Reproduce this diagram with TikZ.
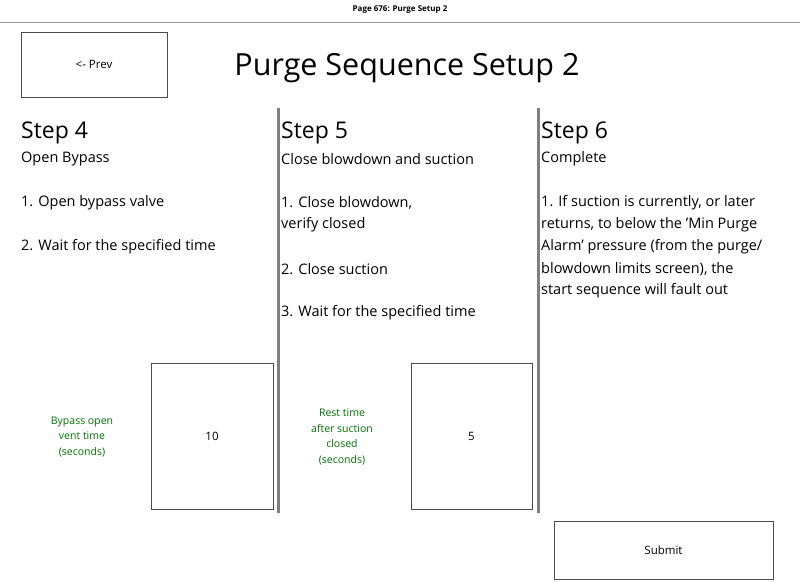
\documentclass[tikz,border=0pt]{standalone}
\usepackage{fontspec}
\setmainfont{Open Sans}
\begin{document}
\begin{tikzpicture}[x=1pt,y=-1pt,
  btn/.style={draw=black!70,line width=0.8pt,fill=white},
  body/.style={anchor=west,font=\fontsize{14.5}{17}\selectfont,inner sep=0pt},
  steph/.style={anchor=west,font=\fontsize{23}{26}\selectfont,inner sep=0pt},
  lbl/.style={align=center,text=green!45!black,font=\fontsize{10.5}{15.5}\selectfont},
  divider/.style={draw=black!50,line width=3pt}]
\useasboundingbox (0,0) rectangle (800,582);
\fill[white] (0,0) rectangle (800,582);
\node[font=\bfseries\fontsize{8}{9}\selectfont] (hdr) at (400,10) {Page 676: Purge Setup 2};
\draw[black!40] (0,22) coordinate (l0) -- (800,22) coordinate (l1);
\node[btn,minimum width=146,minimum height=65,font=\fontsize{11.5}{13}\selectfont] (prev) at (94,64.5) {<- Prev};
\node[font=\fontsize{30.5}{34}\selectfont] (title) at (407,68) {Purge Sequence Setup 2};
\draw[divider] (278,108) coordinate (d1a) -- (278,513) coordinate (d1b);
\draw[divider] (538,108) coordinate (d2a) -- (538,513) coordinate (d2b);
\node[steph] (s4) at (21,133) {Step 4};
\node[body] (s4a) at (21,159) {Open Bypass};
\node[body] (s4b) at (21,203) {1. Open bypass valve};
\node[body] (s4c) at (21,247) {2. Wait for the specified time};
\node[steph] (s5) at (281,133) {Step 5};
\node[body] (s5a) at (281,159) {Close blowdown and suction};
\node[body] (s5b) at (281,203) {1. Close blowdown,};
\node[body] (s5c) at (281,225) {verify closed};
\node[body] (s5d) at (281,269) {2. Close suction};
\node[body] (s5e) at (281,313) {3. Wait for the specified time};
\node[steph] (s6) at (541,133) {Step 6};
\node[body] (s6a) at (541,159) {Complete};
\node[body] (s6b) at (541,203) {1. If suction is currently, or later};
\node[body] (s6c) at (541,225) {returns, to below the \char"0027 Min Purge};
\node[body] (s6d) at (541,247) {Alarm\char"0027\ pressure (from the purge/};
\node[body] (s6e) at (541,269) {blowdown limits screen), the};
\node[body] (s6f) at (541,291) {start sequence will fault out};
\node[btn,minimum width=122,minimum height=146,font=\fontsize{11.5}{13}\selectfont] (v1) at (212,436) {10};
\node[btn,minimum width=121,minimum height=146,font=\fontsize{11.5}{13}\selectfont] (v2) at (471.5,436) {5};
\node[lbl] (g1) at (82,437) {Bypass open\\vent time\\(seconds)};
\node[lbl] (g2) at (342,437) {Rest time\\after suction\\closed\\(seconds)};
\node[btn,minimum width=219,minimum height=58,font=\fontsize{11.5}{13}\selectfont] (sub) at (663.5,550) {Submit};
\end{tikzpicture}
\end{document}
